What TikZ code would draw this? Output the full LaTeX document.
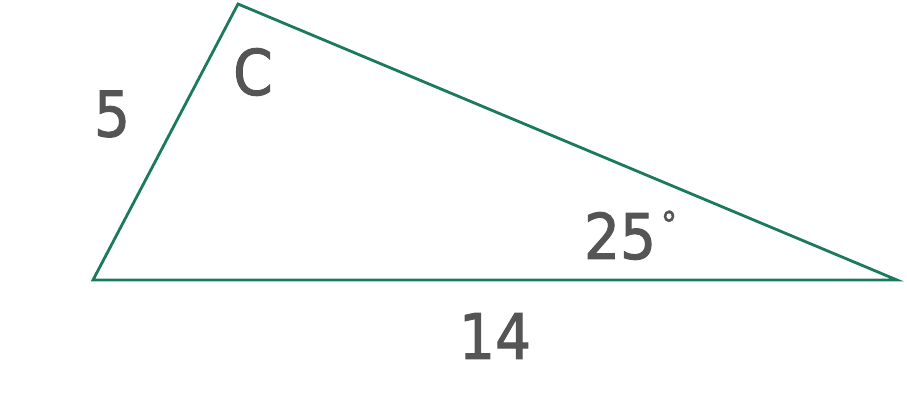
\documentclass[tikz,border=0pt]{standalone}
\usepackage{fontspec}
\setmainfont[BoldFont={DejaVu Sans Condensed},BoldFeatures={FakeBold=1.6}]{DejaVu Sans Condensed}
\definecolor{edge}{HTML}{1B7A5A}
\definecolor{txt}{HTML}{555555}
\begin{document}
\begin{tikzpicture}[x=1pt,y=-1pt,
  side/.style={draw=edge,line width=2.8pt,line join=miter},
  lbl/.style={text=txt,font=\fontsize{63}{63}\selectfont\bfseries,inner sep=0pt,anchor=center}]
\useasboundingbox (0,0) rectangle (907,417);
\coordinate (A) at (93,280);
\coordinate (B) at (238,4);
\coordinate (Cc) at (897,280);
\draw[side] (A) -- (B) -- (Cc) -- cycle;
\node[lbl] (l5) at (112,114) {5};
\node[lbl] (lC) at (253,72) {C};
\node[lbl] (l25) at (620,236) {25};
\node[lbl,font=\fontsize{36}{36}\selectfont\bfseries] (deg) at (669,224) {°};
\node[lbl] (l14) at (495,336) {14};
\end{tikzpicture}
\end{document}
